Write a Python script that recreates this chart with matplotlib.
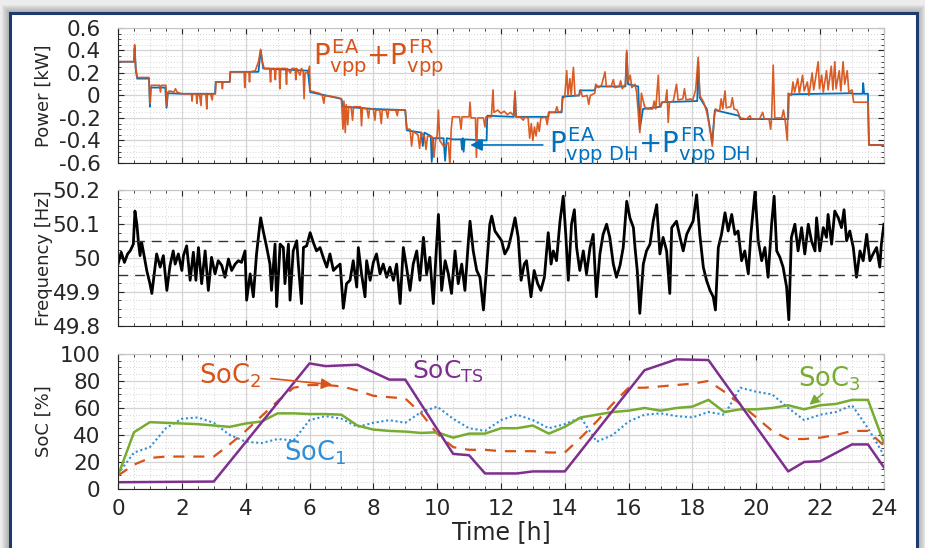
import numpy as np
import matplotlib
matplotlib.use('Agg')
import matplotlib.pyplot as plt
from matplotlib.ticker import AutoMinorLocator
from matplotlib.patches import Rectangle

plt.rcParams['font.family'] = ['DejaVu Sans']
plt.rcParams['mathtext.fontset'] = 'custom'
plt.rcParams['mathtext.rm'] = 'DejaVu Sans'
plt.rcParams['mathtext.it'] = 'DejaVu Sans'
plt.rcParams['mathtext.bf'] = 'DejaVu Sans:bold'

# colores estilo matlab
c_orange = '#D95319'
c_blue = '#0072BD'
c_lblue = '#2E8FD8'
c_purple = '#7E2F8E'
c_green = '#77AC30'
c_axis = '#262626'

# ---------------- datos ----------------
# potencia total vpp (naranja), pares (hora, kW)
p_vpp = [(0.00,0.03),(0.01,0.30),(0.50,0.30),(0.52,0.45),(0.55,0.25),(0.58,0.20),(0.60,0.16),(0.97,0.16),
         (1.00,-0.07),(1.02,0.06),(1.05,0.09),(1.30,0.09),(1.33,0.03),(1.36,0.09),(1.50,0.09),(1.53,-0.09),
         (1.56,0.03),(1.62,0.04),(1.75,0.03),(1.80,0.06),(1.85,0.03),(2.00,0.015),(2.30,0.015),(2.32,-0.05),
         (2.34,0.015),(2.45,0.015),(2.47,-0.07),(2.49,0.0),(2.55,0.015),(2.60,-0.09),(2.62,0.015),(2.75,0.015),
         (2.78,-0.12),(2.80,0.01),(2.90,0.015),(2.95,-0.04),(2.97,0.015),(3.05,0.015),(3.07,0.12),(3.25,0.12),
         (3.27,0.06),(3.29,0.12),(3.50,0.12),(3.52,0.21),(3.95,0.21),(3.97,0.07),(4.00,0.21),(4.10,0.21),
         (4.12,0.12),(4.14,0.21),(4.30,0.22),(4.40,0.30),(4.47,0.41),(4.52,0.30),(4.58,0.24),(4.75,0.24),
         (4.78,0.12),(4.80,0.24),(4.90,0.24),(4.93,0.14),(4.95,0.24),(5.05,0.24),(5.07,0.06),(5.10,0.24),
         (5.25,0.24),(5.28,0.10),(5.30,0.24),(5.40,0.20),(5.45,0.24),(5.55,0.24),(5.57,0.14),(5.60,0.24),
         (5.70,0.18),(5.75,0.24),(5.80,0.22),(5.83,-0.03),(5.86,0.20),(5.95,0.20),(6.00,0.26),(6.02,0.04),
         (6.30,0.02),(6.40,0.00),(6.45,-0.07),(6.48,0.00),(6.70,-0.01),(6.90,-0.02),(7.00,-0.03),(7.05,-0.30),
         (7.08,-0.05),(7.12,-0.33),(7.15,-0.08),(7.20,-0.26),(7.23,-0.10),(7.30,-0.10),(7.35,-0.22),(7.38,-0.10),
         (7.60,-0.10),(7.63,-0.27),(7.66,-0.11),(7.80,-0.12),(7.85,-0.20),(7.88,-0.12),(8.00,-0.12),(8.05,-0.22),
         (8.08,-0.13),(8.20,-0.13),(8.25,-0.25),(8.28,-0.13),(8.40,-0.13),(8.45,-0.20),(8.48,-0.13),(8.70,-0.13),
         (8.75,-0.18),(8.78,-0.13),(9.00,-0.13),(9.05,-0.30),(9.15,-0.30),(9.20,-0.45),(9.25,-0.32),(9.40,-0.35),
         (9.45,-0.47),(9.50,-0.33),(9.60,-0.36),(9.65,-0.48),(9.70,-0.36),(9.85,-0.37),(9.90,-0.55),(9.95,-0.40),
         (10.00,-0.35),(10.04,-0.13),(10.08,-0.40),(10.20,-0.45),(10.35,-0.42),(10.40,-0.62),(10.44,-0.30),
         (10.48,-0.19),(10.70,-0.19),(10.75,-0.30),(10.78,-0.19),(11.00,-0.19),(11.03,-0.06),(11.06,-0.20),
         (11.20,-0.20),(11.23,-0.55),(11.27,-0.20),(11.45,-0.20),(11.50,-0.28),(11.53,-0.19),(11.70,-0.19),
         (11.75,0.05),(11.78,-0.15),(11.90,-0.13),(12.00,-0.16),(12.10,-0.14),(12.20,-0.17),(12.30,-0.15),
         (12.40,-0.18),(12.44,0.04),(12.47,-0.19),(12.60,-0.19),(12.70,-0.22),(12.75,-0.19),(12.85,-0.20),
         (12.90,-0.38),(12.95,-0.25),(13.00,-0.40),(13.05,-0.28),(13.10,-0.36),(13.15,-0.24),(13.20,-0.32),
         (13.25,-0.20),(13.40,-0.19),(13.45,-0.26),(13.50,-0.15),(13.70,-0.15),(13.75,-0.10),(13.80,-0.15),
         (13.90,-0.14),(13.93,-0.03),(14.00,-0.01),(14.06,0.22),(14.10,0.0),(14.16,0.15),(14.20,0.0),
         (14.27,0.25),(14.32,0.0),(14.45,0.0),(14.50,0.05),(14.55,-0.01),(14.70,0.0),(14.75,-0.08),(14.80,0.0),
         (14.94,0.02),(14.97,0.10),(15.05,0.07),(15.15,0.09),(15.26,0.21),(15.30,0.08),(15.45,0.08),(15.52,0.14),
         (15.57,0.07),(15.70,0.08),(15.75,0.13),(15.80,0.06),(15.90,0.10),(15.94,0.40),(15.98,0.12),(16.05,0.18),
         (16.10,0.07),(16.20,0.10),(16.25,0.03),(16.35,-0.33),(16.40,0.02),(16.50,-0.10),(16.60,-0.12),
         (16.75,-0.12),(16.80,-0.05),(16.85,-0.12),(16.93,0.18),(16.97,-0.10),(17.05,-0.06),(17.15,-0.06),
         (17.20,0.05),(17.24,-0.24),(17.28,-0.06),(17.40,-0.05),(17.50,0.10),(17.55,-0.04),(17.70,-0.03),
         (17.75,0.06),(17.80,-0.04),(17.95,-0.03),(18.00,-0.05),(18.10,0.05),(18.18,0.34),(18.23,0.00),
         (18.35,-0.06),(18.45,-0.15),(18.55,-0.30),(18.62,-0.45),(18.68,-0.20),(18.72,-0.12),(18.85,-0.14),
         (18.90,-0.03),(18.95,-0.12),(19.02,0.04),(19.06,-0.11),(19.20,-0.10),(19.25,-0.02),(19.30,-0.12),
         (19.40,-0.13),(19.50,-0.20),(19.70,-0.21),(19.80,-0.18),(19.85,-0.21),(20.10,-0.21),(20.20,-0.15),
         (20.25,-0.21),(20.40,-0.21),(20.45,-0.30),(20.48,-0.20),(20.53,0.27),(20.58,-0.20),(20.80,-0.20),
         (20.85,-0.13),(20.90,-0.21),(20.97,-0.40),(21.00,0.02),(21.10,0.00),(21.15,0.12),(21.20,0.03),
         (21.30,0.15),(21.35,0.02),(21.45,0.18),(21.50,0.04),(21.60,0.12),(21.65,0.0),(21.75,0.20),(21.80,0.05),
         (21.94,0.30),(21.98,0.06),(22.05,0.18),(22.10,0.03),(22.20,0.22),(22.25,0.05),(22.35,0.26),(22.40,0.05),
         (22.46,0.30),(22.50,0.06),(22.60,0.22),(22.65,0.04),(22.72,0.30),(22.77,0.10),(22.85,0.22),(22.90,0.03),
         (23.00,0.05),(23.05,-0.06),(23.50,-0.06),(23.53,-0.44),(24.00,-0.44)]

# potencia vpp con DH (azul)
p_vpp_dh = [(0.00,0.03),(0.01,0.30),(0.50,0.30),(0.52,0.42),(0.56,0.22),(0.60,0.15),(0.97,0.15),(1.00,-0.10),
            (1.03,0.07),(1.48,0.07),(1.52,-0.11),(1.56,0.02),(2.00,0.015),(3.04,0.015),(3.06,0.12),(3.50,0.12),
            (3.52,0.21),(4.40,0.21),(4.47,0.40),(4.55,0.24),(5.95,0.22),(6.02,0.03),(7.00,-0.03),(7.05,-0.10),
            (8.00,-0.12),(9.00,-0.13),(9.05,-0.31),(9.50,-0.33),(9.55,-0.45),(9.60,-0.33),(9.80,-0.36),
            (9.83,-0.59),(9.88,-0.38),(10.20,-0.38),(10.25,-0.58),(10.30,-0.38),(10.50,-0.39),(10.75,-0.39),
            (10.78,-0.48),(10.80,-0.38),(10.83,-0.50),(10.86,-0.39),(11.55,-0.40),(11.57,-0.18),(12.40,-0.19),
            (12.44,0.02),(12.47,-0.19),(13.48,-0.19),(13.50,-0.15),(13.90,-0.15),(13.93,-0.01),(14.45,0.0),
            (14.47,0.045),(14.94,0.045),(14.97,0.08),(15.90,0.08),(15.94,0.38),(15.98,0.10),(16.30,0.08),
            (16.35,-0.30),(16.45,-0.12),(17.00,-0.10),(17.05,-0.06),(18.15,-0.05),(18.18,0.30),(18.23,-0.02),
            (18.45,-0.12),(18.62,-0.42),(18.70,-0.13),(19.00,-0.15),(19.45,-0.18),(19.50,-0.21),(21.00,-0.21),
            (21.02,0.01),(23.00,0.02),(23.05,0.015),(23.33,0.015),(23.35,0.11),(23.38,0.015),(23.50,0.015),
            (23.53,-0.44),(24.00,-0.44)]

# frecuencia de red, pares (hora, Hz)
freq = [(0.00,49.982),(0.10,50.017),(0.20,49.987),(0.30,50.012),(0.38,50.021),(0.48,50.041),(0.53,50.139),
        (0.59,50.100),(0.64,50.046),(0.69,50.007),(0.74,50.046),(0.79,50.021),(0.90,49.963),(1.00,49.924),
        (1.06,49.895),(1.11,49.934),(1.21,50.012),(1.32,49.973),(1.42,50.007),(1.53,49.904),(1.63,49.978),
        (1.73,50.021),(1.79,49.982),(1.89,50.012),(2.00,49.963),(2.05,50.007),(2.15,50.036),(2.26,49.934),
        (2.36,50.017),(2.44,49.934),(2.52,50.031),(2.62,49.924),(2.73,50.021),(2.83,49.904),(2.93,50.002),
        (3.04,49.953),(3.14,49.992),(3.25,49.978),(3.35,49.943),(3.46,49.997),(3.56,49.963),(3.67,49.982),
        (3.77,49.992),(3.87,49.987),(3.98,50.021),(4.03,49.875),(4.14,49.953),(4.24,49.885),(4.34,50.012),
        (4.42,50.080),(4.47,50.119),(4.55,50.080),(4.66,50.031),(4.76,49.982),(4.81,49.904),(4.92,50.041),
        (4.97,49.856),(5.08,50.041),(5.18,50.031),(5.23,49.924),(5.34,50.041),(5.39,49.875),(5.49,50.021),
        (5.60,50.051),(5.65,49.982),(5.75,49.865),(5.81,50.031),(5.91,50.036),(6.02,50.075),(6.12,50.046),
        (6.22,50.021),(6.33,50.031),(6.43,50.002),(6.54,49.973),(6.64,50.012),(6.75,49.963),(6.85,49.973),
        (6.96,49.982),(7.06,49.851),(7.16,49.924),(7.27,49.934),(7.37,49.992),(7.48,49.914),(7.53,50.031),
        (7.63,49.953),(7.74,49.885),(7.79,49.992),(7.90,49.934),(8.00,49.987),(8.10,50.012),(8.21,49.953),
        (8.31,49.982),(8.42,49.943),(8.52,49.973),(8.63,49.934),(8.73,49.982),(8.84,49.865),(8.94,50.031),
        (9.04,49.973),(9.15,49.904),(9.25,49.982),(9.36,50.021),(9.46,49.934),(9.57,50.061),(9.67,49.953),
        (9.77,50.002),(9.88,49.865),(9.96,50.002),(10.04,50.129),(10.09,50.021),(10.14,49.904),(10.25,49.992),
        (10.35,49.953),(10.45,49.895),(10.56,50.021),(10.66,49.924),(10.77,49.982),(10.87,49.904),(10.98,50.051),
        (11.03,50.109),(11.13,50.021),(11.24,49.963),(11.34,49.943),(11.45,49.846),(11.55,49.973),(11.65,50.100),
        (11.71,50.124),(11.81,50.080),(11.92,50.065),(12.02,50.051),(12.12,50.012),(12.23,50.031),(12.33,50.070),
        (12.44,50.119),(12.54,50.061),(12.63,49.934),(12.73,49.982),(12.80,49.992),(12.85,49.953),(12.94,49.885),
        (13.04,49.963),(13.15,49.924),(13.25,49.904),(13.36,49.943),(13.43,50.021),(13.48,50.075),(13.57,49.982),
        (13.64,50.021),(13.74,49.992),(13.85,50.109),(13.95,50.183),(14.03,50.070),(14.11,49.934),(14.21,50.100),
        (14.30,50.143),(14.37,50.031),(14.47,49.963),(14.58,50.021),(14.68,49.953),(14.79,50.031),(14.89,50.070),
        (14.99,49.885),(15.10,50.012),(15.20,50.070),(15.31,50.100),(15.41,50.061),(15.52,49.982),(15.62,49.943),
        (15.73,49.978),(15.83,50.031),(15.94,50.168),(16.04,50.119),(16.15,50.090),(16.20,50.031),(16.27,49.963),
        (16.35,49.836),(16.46,49.982),(16.56,50.021),(16.67,50.041),(16.77,50.109),(16.88,50.158),(16.98,50.012),
        (17.08,50.061),(17.19,50.021),(17.29,49.895),(17.35,50.090),(17.50,50.109),(17.61,50.061),(17.71,50.021),
        (17.82,50.070),(17.92,50.090),(18.02,50.109),(18.13,50.187),(18.23,50.070),(18.34,49.973),(18.44,49.934),
        (18.55,49.904),(18.65,49.885),(18.72,49.846),(18.81,50.031),(18.91,50.070),(19.02,50.134),(19.12,50.080),
        (19.23,50.129),(19.33,50.070),(19.43,50.080),(19.54,49.992),(19.64,50.021),(19.75,49.953),(19.83,50.070),
        (19.90,50.139),(19.96,50.198),(20.06,50.051),(20.17,49.992),(20.27,50.031),(20.37,49.943),(20.48,50.100),
        (20.56,50.183),(20.64,50.021),(20.74,50.002),(20.84,49.973),(20.95,49.914),(21.02,49.817),(21.10,50.061),
        (21.21,50.100),(21.31,50.021),(21.42,50.090),(21.52,50.012),(21.63,50.100),(21.73,50.051),(21.84,50.021),
        (21.89,50.119),(21.99,50.021),(22.10,50.090),(22.20,50.061),(22.25,50.129),(22.36,50.041),(22.46,50.139),
        (22.57,50.119),(22.67,50.090),(22.75,50.143),(22.83,50.051),(22.93,50.080),(23.04,50.031),(23.14,49.943),
        (23.25,50.021),(23.35,49.992),(23.46,50.070),(23.56,49.992),(23.66,50.012),(23.77,50.031),(23.87,49.973),
        (23.92,50.041),(24.00,50.100)]
f_band = [50.05, 49.95]

# estado de carga (%) cada media hora
soc_t = np.arange(0, 24.01, 0.5)
soc1 = [11, 27, 31, 45, 52, 53, 49, 40, 35, 34, 37, 36, 51, 54, 52, 46, 49, 51, 49, 57, 61, 52, 45, 43, 51,
        55, 51, 45, 48, 53, 35, 40, 50, 55, 56, 54, 53, 57, 55, 75, 72, 70, 60, 51, 55, 57, 62, 45, 25]
soc2 = [10, 18, 23, 24, 24, 24, 24, 33, 43, 54, 65, 75, 77, 77, 76, 73, 69, 68, 67, 56, 41, 31, 29, 29, 28,
        28, 28, 27, 27, 38, 50, 63, 75, 75, 76, 77, 78, 80, 72, 63, 53, 43, 37, 37, 38, 40, 43, 43, 32]
soc3 = [10, 42, 49.5, 49, 48.5, 48, 47, 46, 48.5, 50, 56, 56, 55.5, 55.5, 55, 47, 44, 43, 42.5, 41.5, 42, 38,
        41, 41, 45, 45, 47, 41, 46, 53, 55, 57, 58, 60, 58, 60, 61, 66, 57, 59, 59, 60, 62, 59, 62, 63, 66, 66, 34]
# almacenamiento termico
soc_ts_t = [0, 3.0, 6.0, 6.5, 7.5, 8.5, 9.0, 10.5, 11.0, 11.5, 12.5, 13.0, 14.0, 16.5, 17.0, 17.5, 18.5,
            21.0, 21.5, 22.0, 23.0, 23.5, 24.0]
soc_ts = [5, 5.5, 93, 91, 92, 81, 81, 26, 25, 11.5, 11.5, 13, 13, 88, 92, 96, 95.5, 13, 20, 20.5, 33, 33, 16]

hours = np.arange(0, 25, 2)
p_ticks = [-0.6, -0.4, -0.2, 0, 0.2, 0.4, 0.6]
p_labels = ['-0.6', '-0.4', '-0.2', '0', '0.2', '0.4', '0.6']
f_ticks = [49.8, 49.9, 50, 50.1, 50.2]
f_labels = ['49.8', '49.9', '50', '50.1', '50.2']
s_ticks = [0, 20, 40, 60, 80, 100]

# ---------------- figura ----------------
fig = plt.figure(figsize=(9.25, 5.48), dpi=100, facecolor='#ececec')

# marco con sombra
for k in range(8):
    d = (8 - k) / 925.
    fig.patches.append(Rectangle((0.0108 - d, -0.05), 0.9806 + 2 * d, 1.026 + d * 1.7,
                                 transform=fig.transFigure, facecolor='black', alpha=0.035,
                                 edgecolor='none', zorder=-20))
fig.patches.append(Rectangle((0.0108, -0.05), 0.9806, 1.026, transform=fig.transFigure,
                             facecolor='white', edgecolor='#1F3A6E', lw=2.2, zorder=-10))

left, width, height = 0.1276, 0.828, 0.2464
ax1 = fig.add_axes([left, 0.7026, width, height])
ax2 = fig.add_axes([left, 0.4060, width, height])
ax3 = fig.add_axes([left, 0.1077, width, height])

for ax in (ax1, ax2, ax3):
    ax.set_facecolor('white')
    ax.set_xlim(0, 24)
    ax.set_xticks(hours)
    ax.xaxis.set_minor_locator(AutoMinorLocator(4))
    ax.yaxis.set_minor_locator(AutoMinorLocator(4))
    ax.grid(which='major', color='#d4d4d4', lw=0.9)
    ax.grid(which='minor', color='#c8c8c8', lw=0.6, ls=(0, (1, 2.5)))
    ax.set_axisbelow(True)
    ax.tick_params(which='both', direction='in', top=True, right=True, colors=c_axis,
                   labelsize=15.5)
    ax.tick_params(axis='y', pad=12.5)
    ax.tick_params(axis='x', pad=7)
    ax.tick_params(which='major', length=4.5, width=0.8)
    ax.tick_params(which='minor', length=2.5, width=0.6)
    for s in ('left', 'bottom'):
        ax.spines[s].set_color(c_axis)
        ax.spines[s].set_linewidth(0.8)
    for s in ('top', 'right'):
        ax.spines[s].set_color('#c4c4c4')
        ax.spines[s].set_linewidth(0.8)
    ax.yaxis.set_label_coords(-0.085, 0.5)

ax1.tick_params(labelbottom=False)
ax2.tick_params(labelbottom=False)

# potencia
pdh = np.array(p_vpp_dh).T
pv = np.array(p_vpp).T
ax1.plot(pdh[0], pdh[1], color=c_blue, lw=1.3)
ax1.plot(pv[0], pv[1], color=c_orange, lw=1.2, alpha=0.95)
ax1.set_ylim(-0.6, 0.6)
ax1.set_yticks(p_ticks)
ax1.set_yticklabels(p_labels)
ax1.set_ylabel('Power [kW]', fontsize=13, color=c_axis)
ax1.text(6.1, 0.33, r'$P^{EA}_{vpp}$+$P^{FR}_{vpp}$', color=c_orange, fontsize=20, va='center')
ax1.text(13.5, -0.45, r'$P^{EA}_{vpp\ DH}$+$P^{FR}_{vpp\ DH}$', color=c_blue, fontsize=20, va='center')
ax1.annotate('', xy=(10.95, -0.44), xytext=(13.4, -0.44),
             arrowprops=dict(arrowstyle='-|>', color=c_blue, lw=1.2, mutation_scale=18))

# frecuencia
fq = np.array(freq).T
ax2.plot(fq[0], fq[1], color='black', lw=2.0)
for fb in f_band:
    ax2.axhline(fb, color='#333333', lw=1.0, ls=(0, (7, 5)))
ax2.set_ylim(49.8, 50.2)
ax2.set_yticks(f_ticks)
ax2.set_yticklabels(f_labels)
ax2.set_ylabel('Frequency [Hz]', fontsize=13, color=c_axis)

# estado de carga
ax3.plot(soc_t, soc1, color=c_lblue, lw=1.5, ls=(0, (1, 1.3)))
ax3.plot(soc_t, soc2, color=c_orange, lw=1.6, ls=(0, (5, 4)))
ax3.plot(soc_t, soc3, color=c_green, lw=1.8)
ax3.plot(soc_ts_t, soc_ts, color=c_purple, lw=1.8)
ax3.set_ylim(0, 100)
ax3.set_yticks(s_ticks)
ax3.set_ylabel('SoC [%]', fontsize=13, color=c_axis)
ax3.set_xlabel('Time [h]', fontsize=17, color=c_axis, labelpad=1)

ax3.text(2.55, 84, r'SoC$_2$', color=c_orange, fontsize=18.5, va='center')
ax3.annotate('', xy=(6.8, 77), xytext=(4.7, 82),
             arrowprops=dict(arrowstyle='-|>', color=c_orange, lw=1.2, mutation_scale=16))
ax3.text(5.2, 27, r'SoC$_1$', color=c_lblue, fontsize=18.5, va='center')
ax3.text(9.2, 87, r'SoC$_{TS}$', color=c_purple, fontsize=18, va='center')
ax3.text(21.3, 82, r'SoC$_3$', color=c_green, fontsize=18.5, va='center')
ax3.annotate('', xy=(21.6, 61), xytext=(22.15, 72),
             arrowprops=dict(arrowstyle='-|>', color=c_green, lw=1.2, mutation_scale=14))

fig.savefig('out.png', dpi=100, facecolor=fig.get_facecolor())
